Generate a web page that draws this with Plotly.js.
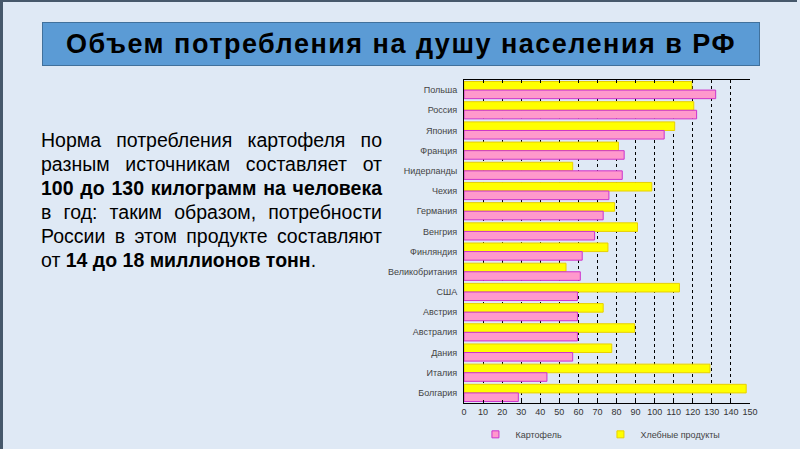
<!DOCTYPE html>
<html>
<head>
<meta charset="utf-8">
<script src="https://cdn.plot.ly/plotly-3.0.1.min.js"></script>
<style>
    html, body { margin: 0; padding: 0; }
    body {
        width: 800px; height: 449px; overflow: hidden; position: relative;
        background: #dfe9f5; font-family: "Liberation Sans", Arial, sans-serif;
    }
    #frame {
        position: absolute; left: 0; top: 0; width: 797px; height: 449px;
        border-left: 3px solid #46586b; border-top: 2px solid #46586b;
        box-sizing: border-box;
    }
    #title {
        position: absolute; left: 42px; top: 22px; width: 718px; height: 44px;
        background: #5b9bd5; border: 1px solid #41719c; box-sizing: border-box;
        text-align: center; line-height: 43px;
        font-size: 27px; letter-spacing: 1.5px; font-weight: bold; color: #000;
    }
    #note {
        position: absolute; left: 41px; top: 128px; width: 341px;
        font-size: 19.5px; color: #000;
    }
    #note div { text-align: justify; text-align-last: justify; line-height: 24px; white-space: nowrap; }
    #note div.last { text-align-last: left; }
    #plot { position: absolute; left: 0; top: 0; width: 800px; height: 449px; }
</style>
</head>
<body>
<div id="frame"></div>
<div id="title">Объем потребления на душу населения в РФ</div>
<div id="note">
    <div>Норма потребления картофеля по</div>
    <div>разным источникам составляет от</div>
    <div><b>100 до 130 килограмм на человека</b></div>
    <div>в год: таким образом, потребности</div>
    <div>России в этом продукте составляют</div>
    <div class="last">от <b>14 до 18 миллионов тонн</b>.</div>
</div>
<div id="plot"></div>
<script>
// values, kg per person per year
const countries = ['Польша', 'Россия', 'Япония', 'Франция', 'Нидерланды', 'Чехия', 'Германия', 'Венгрия',
    'Финляндия', 'Великобритания', 'США', 'Австрия', 'Австралия', 'Дания', 'Италия', 'Болгария'];
const potato = [132, 122, 105, 84, 83, 76, 73, 68.5, 62, 61, 59.5, 59.5, 59.5, 57, 43.5, 28.5];
const bread = [119.5, 120.5, 110.5, 81, 57, 98.5, 79, 91, 75.5, 53.5, 113, 73, 89.5, 77.5, 129, 148];
const xTicks = [0, 10, 20, 30, 40, 50, 60, 70, 80, 90, 100, 110, 120, 130, 140, 150];

const font = 'Liberation Sans, Arial, sans-serif';

const potatoStyle = { color: '#ff99cc', line: { color: '#cc33cc', width: 1 } };
const breadStyle = { color: '#ffff00', line: { color: '#e8d000', width: 1 } };

// bread first so it sits above potato in each group (axis is reversed)
const traces = [
    {
        type: 'bar', orientation: 'h', name: 'Хлебные продукты',
        y: countries, x: bread, showlegend: false,
        marker: breadStyle, hoverinfo: 'y+x'
    },
    {
        type: 'bar', orientation: 'h', name: 'Картофель',
        y: countries, x: potato, showlegend: false,
        marker: potatoStyle, hoverinfo: 'y+x'
    },
    // small square keys for the legend, like the original
    {
        type: 'scatter', mode: 'markers', name: 'Картофель',
        x: [null], y: [null], legendrank: 1,
        marker: { symbol: 'square', size: 7, color: potatoStyle.color, line: potatoStyle.line }
    },
    {
        type: 'scatter', mode: 'markers', name: 'Хлебные продукты',
        x: [null], y: [null], legendrank: 2,
        marker: { symbol: 'square', size: 7, color: breadStyle.color, line: breadStyle.line }
    }
];

const layout = {
    width: 800, height: 449,
    margin: { l: 464, r: 50, t: 80, b: 46, pad: 0, autoexpand: false },
    paper_bgcolor: 'rgba(0,0,0,0)',
    plot_bgcolor: 'rgba(0,0,0,0)',
    barmode: 'group',
    bargap: 0.15,
    bargroupgap: 0,
    showlegend: true,
    legend: {
        orientation: 'h',
        x: 0.04, y: -0.097, xanchor: 'left', yanchor: 'middle',
        entrywidth: 80,
        itemwidth: 30,
        font: { family: font, size: 9, color: '#444' },
        bgcolor: 'rgba(0,0,0,0)'
    },
    xaxis: {
        range: [0, 150],
        tickvals: xTicks,
        ticktext: xTicks.map(String),
        showgrid: true,
        gridcolor: '#000',
        gridwidth: 1,
        griddash: '3px,3px',
        zeroline: false,
        showline: true,
        linecolor: '#000',
        linewidth: 1,
        mirror: 'ticks',
        ticks: 'inside',
        ticklen: 3,
        tickcolor: '#000',
        tickfont: { family: font, size: 9, color: '#333' },
        fixedrange: true
    },
    yaxis: {
        type: 'category',
        autorange: 'reversed',
        showgrid: false,
        zeroline: false,
        showline: true,
        linecolor: '#000',
        linewidth: 1,
        ticks: '',
        ticklabelstandoff: 4,
        tickfont: { family: font, size: 9, color: '#444' },
        fixedrange: true
    }
};

Plotly.newPlot('plot', traces, layout, { displayModeBar: false, staticPlot: true });
</script>
</body>
</html>
